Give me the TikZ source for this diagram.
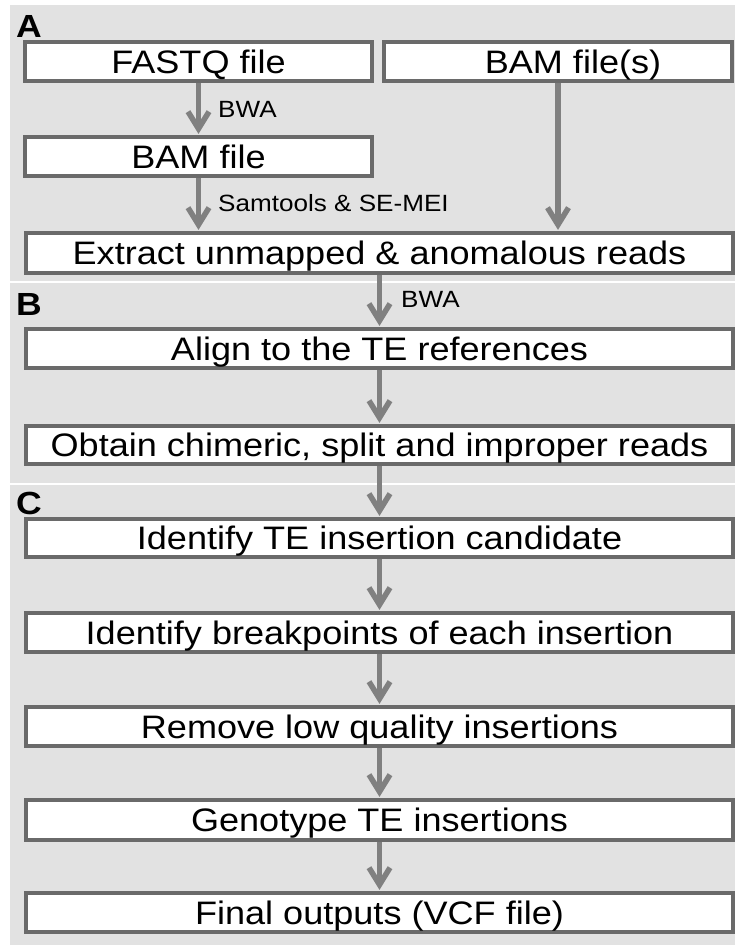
\documentclass[tikz,border=0pt]{standalone}
\usepackage{fontspec}
\setmainfont{Liberation Sans}[FakeStretch=1.11]
\usetikzlibrary{arrows.meta}
\definecolor{panelgray}{HTML}{E2E2E2}
\definecolor{boxgray}{HTML}{6A6A6A}
\definecolor{arrowgray}{HTML}{808080}
\begin{document}
\begin{tikzpicture}[x=1pt,y=-1pt,
  stepbox/.style={draw=boxgray, line width=3.2pt, fill=white, inner sep=0pt,
    minimum height=39pt, font=\fontsize{32.5}{36}\selectfont,
    text height=23.3pt, text depth=0pt},
  widebox/.style={stepbox, minimum width=707pt},
  flow/.style={draw=arrowgray, line width=5.5pt,
    -{Straight Barb[length=17pt,width=21pt]}, shorten >=1.5pt},
  tool/.style={font=\fontsize{23.5}{26}\selectfont, anchor=base west, inner sep=0pt},
  panel/.style={font=\fontsize{32}{34}\selectfont\bfseries, anchor=base west, inner sep=0pt}]
\useasboundingbox (0,0) rectangle (735,945);
% background panel and the white rules between the three parts
\fill[white] (0,0) rectangle (735,945);
\fill[panelgray] (10,5) rectangle (735,945);
\draw[white, line width=2.5pt] (10,282) -- (735,282);
\draw[white, line width=2.5pt] (10,484) -- (735,484);

% panel letters
\node[panel] (pA) at (16,37) {A};
\node[panel] (pB) at (16,315) {B};
\node[panel] (pC) at (16,514) {C};

% part A
\node[stepbox, minimum width=347pt] (fastq) at (198.5,61.5) {FASTQ file};
\node[stepbox, minimum width=348pt] (bams) at (558,61.5) {\hspace*{30pt}BAM file(s)};
\node[stepbox, minimum width=347pt] (bam) at (198.5,156.5) {BAM file};
\node[widebox, minimum height=40pt] (extract) at (379.5,253) {Extract unmapped \& anomalous reads};

% part B
\node[widebox] (align) at (379.5,348.5) {Align to the TE references};
\node[widebox, minimum height=38pt] (obtain) at (379.5,445) {Obtain chimeric, split and improper reads};

% part C
\node[widebox, minimum height=38pt] (cand) at (379.5,538) {Identify TE insertion candidate};
\node[widebox] (brk) at (379.5,632.5) {Identify breakpoints of each insertion};
\node[widebox] (lowq) at (379.5,726.5) {Remove low quality insertions};
\node[widebox, minimum height=40pt] (geno) at (379.5,820) {Genotype TE insertions};
\node[widebox] (final) at (379.5,912.5) {Final outputs (VCF file)};

% connectors
\draw[flow] (fastq.south) -- (bam.north);
\draw[flow] (bam.south) -- (bam.south |- extract.north);
\draw[flow] (bams.south) -- (bams.south |- extract.north);
\draw[flow] (extract.south) -- (align.north);
\draw[flow] (align.south) -- (obtain.north);
\draw[flow] (obtain.south) -- (cand.north);
\draw[flow] (cand.south) -- (brk.north);
\draw[flow] (brk.south) -- (lowq.north);
\draw[flow] (lowq.south) -- (geno.north);
\draw[flow] (geno.south) -- (final.north);

% tool labels beside the connectors
\node[tool] (t1) at (218,117) {BWA};
\node[tool] (t2) at (218,211) {Samtools \& SE-MEI};
\node[tool] (t3) at (401,307) {BWA};
\end{tikzpicture}
\end{document}
